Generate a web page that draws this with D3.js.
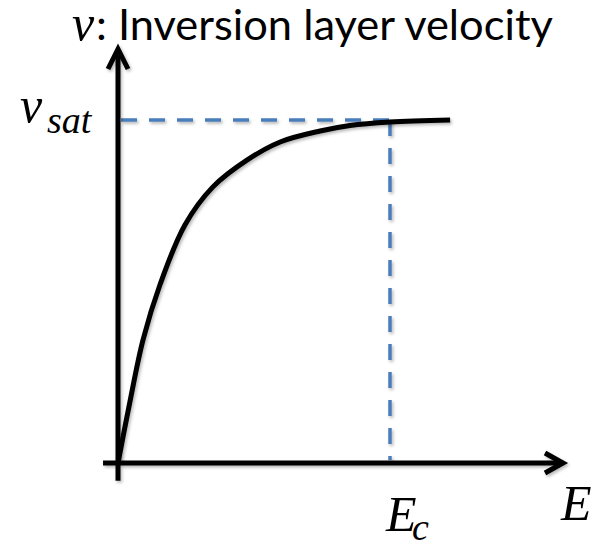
<!DOCTYPE html>
<html>
<head>
<meta charset="utf-8">
<script src="https://cdn.jsdelivr.net/npm/d3@7"></script>
<style>
  html, body { margin: 0; padding: 0; background: #fff; }
  svg { display: block; }
</style>
</head>
<body>
<svg id="chart" width="600" height="543"></svg>
<script>
// Velocity–field curve: E in units of Ec, v in units of v_sat
const fieldE    = [0, 0.040, 0.092, 0.154, 0.246, 0.349, 0.474, 0.596, 0.743, 0.853, 1.0, 1.221];
const velocityV = [0, 0.163, 0.359, 0.519, 0.694, 0.805, 0.883, 0.936, 0.968, 0.984, 0.994, 1.0];

// Reference markers on each axis
const xMarks = [{ value: 1, main: "E", sub: "c" }];
const yMarks = [{ value: 1, main: "v", sub: "sat" }];

const titleSymbol = "v";
const titleText = ": Inversion layer velocity";
const xAxisName = "E";

const svg = d3.select("#chart");
const W = 600, H = 543;

const x = d3.scaleLinear().domain([0, 1]).range([118, 390]);
const y = d3.scaleLinear().domain([0, 1]).range([463, 120]);

const defs = svg.append("defs");
const shadow = defs.append("filter").attr("id", "shade")
  .attr("x", "-20%").attr("y", "-20%").attr("width", "140%").attr("height", "140%");
shadow.append("feDropShadow")
  .attr("dx", 1.5).attr("dy", 2).attr("stdDeviation", 1.4)
  .attr("flood-color", "#000").attr("flood-opacity", 0.28);

svg.append("rect").attr("width", W).attr("height", H).attr("fill", "#fff");

const mathFont = "'Liberation Serif', 'DejaVu Serif', serif";
const blue = "#4a7ebb";

// Dashed guides to the saturation point
const guides = svg.append("g").attr("filter", "url(#shade)")
  .attr("stroke", blue).attr("stroke-width", 3.5)
  .attr("stroke-dasharray", "16,12").attr("fill", "none");
yMarks.forEach(m => {
  guides.append("line")
    .attr("x1", x(0) + 3).attr("x2", x(xMarks[0].value))
    .attr("y1", y(m.value)).attr("y2", y(m.value));
});
xMarks.forEach(m => {
  guides.append("line")
    .attr("x1", x(m.value)).attr("x2", x(m.value))
    .attr("y1", y(yMarks[0].value)).attr("y2", y(0) - 3);
});

// Axes with open chevron heads
const axes = svg.append("g").attr("filter", "url(#shade)")
  .attr("stroke", "#000").attr("stroke-width", 5).attr("fill", "none")
  .attr("stroke-linecap", "butt");
const xLo = -0.055, xHi = 1.636, yLo = -0.052, yHi = 1.207;
axes.append("line")
  .attr("x1", x(xLo)).attr("x2", x(xHi) - 2)
  .attr("y1", y(0)).attr("y2", y(0));
axes.append("line")
  .attr("x1", x(0)).attr("x2", x(0))
  .attr("y1", y(yLo)).attr("y2", y(yHi) + 2);
axes.append("path")
  .attr("stroke-linejoin", "miter")
  .attr("d", `M${x(xHi) - 18},${y(0) - 10} L${x(xHi)},${y(0)} L${x(xHi) - 18},${y(0) + 10}`);
axes.append("path")
  .attr("stroke-linejoin", "miter")
  .attr("d", `M${x(0) - 10},${y(yHi) + 20} L${x(0)},${y(yHi)} L${x(0) + 10},${y(yHi) + 20}`);

// Velocity curve
const pts = fieldE.map((e, i) => [e, velocityV[i]]);
svg.append("path")
  .datum(pts)
  .attr("filter", "url(#shade)")
  .attr("fill", "none").attr("stroke", "#000").attr("stroke-width", 5)
  .attr("stroke-linecap", "butt")
  .attr("d", d3.line().x(d => x(d[0])).y(d => y(d[1])).curve(d3.curveCatmullRom.alpha(0.5)));

// Title
svg.append("text")
  .attr("x", 72).attr("y", 40)
  .attr("font-family", mathFont).attr("font-style", "italic").attr("font-size", 50)
  .text(titleSymbol);
const title = svg.append("text")
  .attr("x", 96).attr("y", 40)
  .attr("font-family", "Lato, 'Open Sans', sans-serif").attr("font-size", 42)
  .text(titleText);
const tw = title.node().getComputedTextLength();
title.attr("font-size", 42 * 457 / tw);

// Axis marker labels
yMarks.forEach(m => {
  const t = svg.append("text")
    .attr("font-family", mathFont).attr("font-style", "italic");
  t.append("tspan").attr("x", 20).attr("y", y(m.value) + 2).attr("font-size", 50).text(m.main);
  t.append("tspan").attr("x", 47).attr("y", y(m.value) + 13).attr("font-size", 38).text(m.sub);
});
xMarks.forEach(m => {
  const t = svg.append("text")
    .attr("font-family", mathFont).attr("font-style", "italic");
  t.append("tspan").attr("x", x(m.value) - 4).attr("y", 531).attr("font-size", 50).text(m.main);
  t.append("tspan").attr("x", x(m.value) + 22).attr("y", 540).attr("font-size", 38).text(m.sub);
});
svg.append("text")
  .attr("x", 561).attr("y", 520)
  .attr("font-family", mathFont).attr("font-style", "italic").attr("font-size", 50)
  .text(xAxisName);
</script>
</body>
</html>
